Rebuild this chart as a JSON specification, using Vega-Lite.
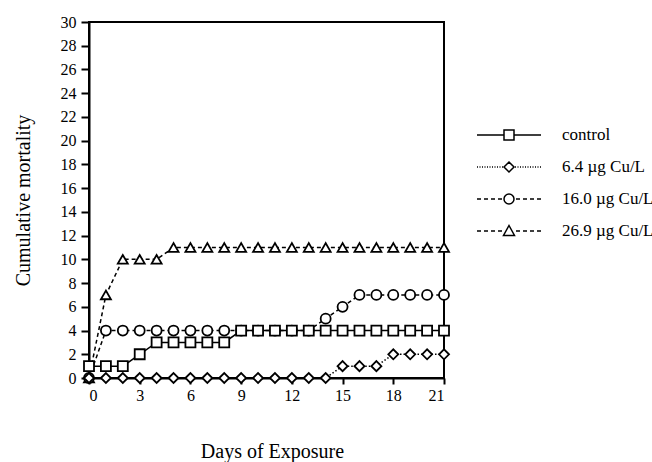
{
  "$schema": "https://vega.github.io/schema/vega-lite/v6.json",
  "width": 355,
  "height": 356,
  "autosize": {"type": "none"},
  "padding": {"left": 89, "top": 22, "right": 208, "bottom": 84},
  "background": "white",
  "config": {
    "font": "Liberation Serif",
    "view": {"stroke": "black", "strokeWidth": 2},
    "axis": {
      "domainColor": "black", "domainWidth": 2, "tickColor": "black", "tickWidth": 2,
      "labelColor": "black", "titleColor": "black", "grid": false,
      "labelFont": "Liberation Serif", "titleFont": "Liberation Serif",
      "labelFontSize": 16, "titleFontWeight": "normal"
    },
    "legend": {"labelFont": "Liberation Serif", "labelFontSize": 17, "labelColor": "black"}
  },
  "data": {"values": [
    {"day": 0, "mortality": 0, "series": "26.9 µg Cu/L"},
    {"day": 1, "mortality": 7, "series": "26.9 µg Cu/L"},
    {"day": 2, "mortality": 10, "series": "26.9 µg Cu/L"},
    {"day": 3, "mortality": 10, "series": "26.9 µg Cu/L"},
    {"day": 4, "mortality": 10, "series": "26.9 µg Cu/L"},
    {"day": 5, "mortality": 11, "series": "26.9 µg Cu/L"},
    {"day": 6, "mortality": 11, "series": "26.9 µg Cu/L"},
    {"day": 7, "mortality": 11, "series": "26.9 µg Cu/L"},
    {"day": 8, "mortality": 11, "series": "26.9 µg Cu/L"},
    {"day": 9, "mortality": 11, "series": "26.9 µg Cu/L"},
    {"day": 10, "mortality": 11, "series": "26.9 µg Cu/L"},
    {"day": 11, "mortality": 11, "series": "26.9 µg Cu/L"},
    {"day": 12, "mortality": 11, "series": "26.9 µg Cu/L"},
    {"day": 13, "mortality": 11, "series": "26.9 µg Cu/L"},
    {"day": 14, "mortality": 11, "series": "26.9 µg Cu/L"},
    {"day": 15, "mortality": 11, "series": "26.9 µg Cu/L"},
    {"day": 16, "mortality": 11, "series": "26.9 µg Cu/L"},
    {"day": 17, "mortality": 11, "series": "26.9 µg Cu/L"},
    {"day": 18, "mortality": 11, "series": "26.9 µg Cu/L"},
    {"day": 19, "mortality": 11, "series": "26.9 µg Cu/L"},
    {"day": 20, "mortality": 11, "series": "26.9 µg Cu/L"},
    {"day": 21, "mortality": 11, "series": "26.9 µg Cu/L"},
    {"day": 0, "mortality": 0, "series": "16.0 µg Cu/L"},
    {"day": 1, "mortality": 4, "series": "16.0 µg Cu/L"},
    {"day": 2, "mortality": 4, "series": "16.0 µg Cu/L"},
    {"day": 3, "mortality": 4, "series": "16.0 µg Cu/L"},
    {"day": 4, "mortality": 4, "series": "16.0 µg Cu/L"},
    {"day": 5, "mortality": 4, "series": "16.0 µg Cu/L"},
    {"day": 6, "mortality": 4, "series": "16.0 µg Cu/L"},
    {"day": 7, "mortality": 4, "series": "16.0 µg Cu/L"},
    {"day": 8, "mortality": 4, "series": "16.0 µg Cu/L"},
    {"day": 9, "mortality": 4, "series": "16.0 µg Cu/L"},
    {"day": 10, "mortality": 4, "series": "16.0 µg Cu/L"},
    {"day": 11, "mortality": 4, "series": "16.0 µg Cu/L"},
    {"day": 12, "mortality": 4, "series": "16.0 µg Cu/L"},
    {"day": 13, "mortality": 4, "series": "16.0 µg Cu/L"},
    {"day": 14, "mortality": 5, "series": "16.0 µg Cu/L"},
    {"day": 15, "mortality": 6, "series": "16.0 µg Cu/L"},
    {"day": 16, "mortality": 7, "series": "16.0 µg Cu/L"},
    {"day": 17, "mortality": 7, "series": "16.0 µg Cu/L"},
    {"day": 18, "mortality": 7, "series": "16.0 µg Cu/L"},
    {"day": 19, "mortality": 7, "series": "16.0 µg Cu/L"},
    {"day": 20, "mortality": 7, "series": "16.0 µg Cu/L"},
    {"day": 21, "mortality": 7, "series": "16.0 µg Cu/L"},
    {"day": 0, "mortality": 1, "series": "control"},
    {"day": 1, "mortality": 1, "series": "control"},
    {"day": 2, "mortality": 1, "series": "control"},
    {"day": 3, "mortality": 2, "series": "control"},
    {"day": 4, "mortality": 3, "series": "control"},
    {"day": 5, "mortality": 3, "series": "control"},
    {"day": 6, "mortality": 3, "series": "control"},
    {"day": 7, "mortality": 3, "series": "control"},
    {"day": 8, "mortality": 3, "series": "control"},
    {"day": 9, "mortality": 4, "series": "control"},
    {"day": 10, "mortality": 4, "series": "control"},
    {"day": 11, "mortality": 4, "series": "control"},
    {"day": 12, "mortality": 4, "series": "control"},
    {"day": 13, "mortality": 4, "series": "control"},
    {"day": 14, "mortality": 4, "series": "control"},
    {"day": 15, "mortality": 4, "series": "control"},
    {"day": 16, "mortality": 4, "series": "control"},
    {"day": 17, "mortality": 4, "series": "control"},
    {"day": 18, "mortality": 4, "series": "control"},
    {"day": 19, "mortality": 4, "series": "control"},
    {"day": 20, "mortality": 4, "series": "control"},
    {"day": 21, "mortality": 4, "series": "control"},
    {"day": 0, "mortality": 0, "series": "6.4 µg Cu/L"},
    {"day": 1, "mortality": 0, "series": "6.4 µg Cu/L"},
    {"day": 2, "mortality": 0, "series": "6.4 µg Cu/L"},
    {"day": 3, "mortality": 0, "series": "6.4 µg Cu/L"},
    {"day": 4, "mortality": 0, "series": "6.4 µg Cu/L"},
    {"day": 5, "mortality": 0, "series": "6.4 µg Cu/L"},
    {"day": 6, "mortality": 0, "series": "6.4 µg Cu/L"},
    {"day": 7, "mortality": 0, "series": "6.4 µg Cu/L"},
    {"day": 8, "mortality": 0, "series": "6.4 µg Cu/L"},
    {"day": 9, "mortality": 0, "series": "6.4 µg Cu/L"},
    {"day": 10, "mortality": 0, "series": "6.4 µg Cu/L"},
    {"day": 11, "mortality": 0, "series": "6.4 µg Cu/L"},
    {"day": 12, "mortality": 0, "series": "6.4 µg Cu/L"},
    {"day": 13, "mortality": 0, "series": "6.4 µg Cu/L"},
    {"day": 14, "mortality": 0, "series": "6.4 µg Cu/L"},
    {"day": 15, "mortality": 1, "series": "6.4 µg Cu/L"},
    {"day": 16, "mortality": 1, "series": "6.4 µg Cu/L"},
    {"day": 17, "mortality": 1, "series": "6.4 µg Cu/L"},
    {"day": 18, "mortality": 2, "series": "6.4 µg Cu/L"},
    {"day": 19, "mortality": 2, "series": "6.4 µg Cu/L"},
    {"day": 20, "mortality": 2, "series": "6.4 µg Cu/L"},
    {"day": 21, "mortality": 2, "series": "6.4 µg Cu/L"}
  ]},
  "encoding": {
    "x": {
      "field": "day", "type": "quantitative",
      "scale": {"domain": [0, 21], "nice": false, "zero": false},
      "axis": {"values": [0, 3, 6, 9, 12, 15, 18, 21], "title": "Days of Exposure",
        "tickSize": 6, "labelPadding": 3, "titleFontSize": 20, "titlePadding": 38, "titleX": 183}
    },
    "y": {
      "field": "mortality", "type": "quantitative",
      "scale": {"domain": [0, 30], "nice": false},
      "axis": {"values": [0, 2, 4, 6, 8, 10, 12, 14, 16, 18, 20, 22, 24, 26, 28, 30],
        "title": "Cumulative mortality", "tickSize": 8, "labelPadding": 5,
        "titleFontSize": 20, "titlePadding": 27}
    }
  },
  "layer": [
    {
      "transform": [{"filter": "datum.series === '26.9 µg Cu/L'"}],
      "mark": {"type": "line", "color": "black", "strokeWidth": 1.5, "strokeDash": [4, 3]},
      "encoding": {}
    },
    {
      "transform": [{"filter": "datum.series === '16.0 µg Cu/L'"}],
      "mark": {"type": "line", "color": "black", "strokeWidth": 1.5, "strokeDash": [4, 3]},
      "encoding": {}
    },
    {
      "transform": [{"filter": "datum.series === 'control'"}],
      "mark": {"type": "line", "color": "black", "strokeWidth": 1.5},
      "encoding": {}
    },
    {
      "transform": [{"filter": "datum.series === '6.4 µg Cu/L'"}],
      "mark": {"type": "line", "color": "black", "strokeWidth": 1.5, "strokeDash": [1.5, 2]},
      "encoding": {}
    },
    {
      "mark": {"type": "point", "filled": false, "fill": "white", "fillOpacity": 1, "stroke": "black", "strokeWidth": 1.8, "size": 100, "opacity": 1},
      "encoding": {
        "shape": {
          "field": "series", "type": "nominal",
          "scale": {"domain": ["control", "6.4 µg Cu/L", "16.0 µg Cu/L", "26.9 µg Cu/L"],
            "range": ["square", "diamond", "circle", "triangle-up"]},
          "legend": null
        }
      }
    },
    {
      "transform": [{"filter": "datum.day === 21"}],
      "mark": {"type": "point", "filled": false, "stroke": "black", "strokeWidth": 1.5, "size": 400, "opacity": 0},
      "encoding": {
        "shape": {
          "field": "series", "type": "nominal",
          "scale": {"domain": ["control", "6.4 µg Cu/L", "16.0 µg Cu/L", "26.9 µg Cu/L"],
            "range": [
              "M-3.2,0H-0.5M0.5,0H3.2M-0.5,-0.5H0.5V0.5H-0.5Z",
              "M-3.2,0h0.1m0.15,0h0.1m0.15,0h0.1m0.15,0h0.1m0.15,0h0.1m0.15,0h0.1m0.15,0h0.1m0.15,0h0.1m0.15,0h0.1m0.15,0h0.1m0.15,0h0.1M0.6,0h0.1m0.15,0h0.1m0.15,0h0.1m0.15,0h0.1m0.15,0h0.1m0.15,0h0.1m0.15,0h0.1m0.15,0h0.1m0.15,0h0.1m0.15,0h0.1m0.15,0h0.1M0,-0.5L0.5,0L0,0.5L-0.5,0Z",
              "M-3.2,0h0.4m0.3,0h0.4m0.3,0h0.4m0.3,0h0.4M0.7,0h0.4m0.3,0h0.4m0.3,0h0.4m0.3,0h0.4M0.5,0A0.5,0.5 0 1,1 -0.5,0A0.5,0.5 0 1,1 0.5,0Z",
              "M-3.2,0h0.4m0.3,0h0.4m0.3,0h0.4m0.3,0h0.4M0.7,0h0.4m0.3,0h0.4m0.3,0h0.4m0.3,0h0.4M0,-0.55L0.55,0.45H-0.55Z"
            ]},
          "legend": {
            "title": null, "orient": "none", "legendX": 409, "legendY": 102,
            "padding": 0, "symbolSize": 400, "rowPadding": 13, "labelOffset": 42,
            "symbolOpacity": 1, "symbolStrokeWidth": 1.5, "symbolStrokeColor": "black", "symbolFillColor": "white"
          }
        }
      }
    }
  ],
  "resolve": {"scale": {"shape": "independent"}, "legend": {"shape": "independent"}}
}
